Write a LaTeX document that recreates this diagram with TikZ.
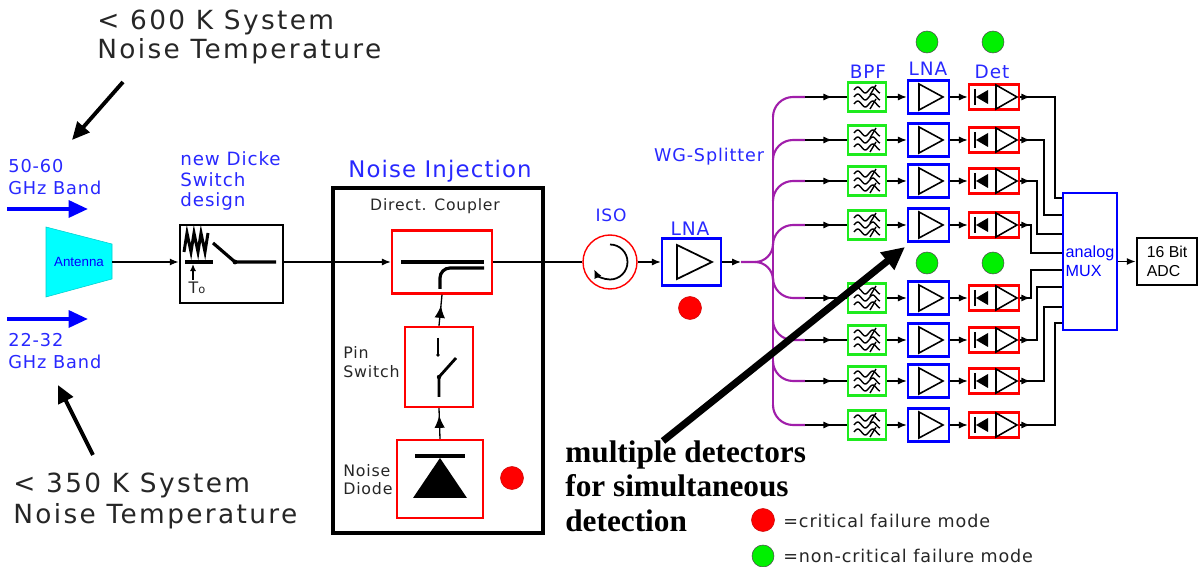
\documentclass[tikz,border=0pt]{standalone}
\usepackage{fontspec}
\setmainfont{Liberation Serif}
\newfontfamily\lbl[LetterSpace=5]{DejaVu Sans}
\newfontfamily\lblw[LetterSpace=9]{DejaVu Sans}
\newfontfamily\arl{Liberation Sans}
\usepackage{tikz}
\usetikzlibrary{arrows.meta,decorations.markings}
\definecolor{txtblue}{RGB}{40,40,255}
\definecolor{purp}{RGB}{160,30,170}
\definecolor{grn}{RGB}{30,235,30}
\definecolor{dotgrn}{RGB}{0,240,0}
\definecolor{antcyan}{RGB}{0,255,255}
\tikzset{
  redbox/.style={draw=red,line width=1.4pt,inner sep=0pt},
  bluebox/.style={draw=blue,line width=1.4pt,inner sep=0pt},
  grnbox/.style={draw=grn,line width=1.2pt,inner sep=0pt},
  blkbox/.style={draw,line width=1.6pt,inner sep=0pt},
  lbltxt/.style={inner sep=0pt,align=left,text=txtblue},
  blktxt/.style={inner sep=0pt,align=left,text=black!85},
  wire/.style={line width=0.75pt},
  midarr/.style={postaction={decorate},decoration={markings,mark=at position #1 with {\arrow{Latex[length=5pt,width=4pt]}}}},
  midarrb/.style={postaction={decorate},decoration={markings,mark=at position #1 with {\arrow{Latex[length=7pt,width=6pt]}}}},
  reddot/.style={circle,fill=red,draw=red!80!black,line width=0.3pt,minimum size=0.46cm,inner sep=0pt},
  grndot/.style={circle,fill=dotgrn,draw=black!70,line width=0.3pt,minimum size=0.44cm,inner sep=0pt},
  bandarr/.style={blue,line width=2.3pt,-{Triangle[length=11pt,width=9.5pt]}},
  notearr/.style={line width=2.2pt,-{Triangle[length=10pt,width=9pt]}},
}

\begin{document}
\begin{tikzpicture}[x=0.02cm,y=0.02cm,>={Latex[length=5pt,width=4pt]}]
          \useasboundingbox (0,0) rectangle (1198,-567);
          % front end
          \node[blktxt,anchor=west,font=\lblw\fontsize{15}{17}\selectfont] (t600) at (97,-37) {< 600 K System\\Noise Temperature};
          \coordinate (a600) at (123,-82);
          \coordinate (b600) at (72,-140);
          \draw[notearr] (a600) -- (b600);
          \node[lbltxt,anchor=west,font=\lbl\fontsize{10.1}{12.5}\selectfont] (b5060) at (8,-177) {50-60\\GHz Band};
          \coordinate (ua) at (7,-209);
          \coordinate (ub) at (88,-209);
          \draw[bandarr] (ua) -- (ub);
          \coordinate (la) at (7,-319);
          \coordinate (lb) at (88,-319);
          \draw[bandarr] (la) -- (lb);
          \node[lbltxt,anchor=west,font=\lbl\fontsize{10.1}{12.5}\selectfont] (b2232) at (8,-351) {22-32\\GHz Band};
          \node[blktxt,anchor=west,font=\lblw\fontsize{15}{17.5}\selectfont] (t350) at (13,-501) {< 350 K System\\Noise Temperature};
          \coordinate (a350) at (93,-455);
          \coordinate (b350) at (58,-385);
          \draw[notearr] (a350) -- (b350);

          \draw[fill=antcyan,draw=antcyan!80!black,line width=0.3pt] (46,-227) -- (112,-244) -- (112,-279) -- (46,-297) -- cycle;
          \node[inner sep=0pt,text=blue,font=\arl\fontsize{7.6}{9}\selectfont] (ant) at (79,-262) {Antenna};
          \coordinate (antout) at (112,-262);

          % Dicke switch
          \node[blkbox,minimum width=2.06cm,minimum height=1.56cm] (dk) at (231.5,-264) {};
          \node[lbltxt,anchor=west,font=\lbl\fontsize{10.4}{11.9}\selectfont] (dkl) at (180,-181) {new Dicke\\Switch\\design};
          \draw[line width=1.7pt] (184,-252) -- (187,-233) -- (191,-252) -- (194,-233) -- (198,-252) -- (201,-233) -- (205,-252) -- (208,-233);
          \draw[line width=2pt] (185,-262) -- (213,-262);
          \draw[line width=0.9pt,-{Latex[length=4pt,width=3.5pt]}] (193,-280) -- (193,-264);
          \node[blktxt,font=\lbl\fontsize{9}{10}\selectfont] (t0) at (197,-288) {T{\fontsize{6.5}{7}\selectfont o}};
          \draw[line width=1.8pt] (213,-243) -- (235,-262) -- (276,-262);
          \fill (235,-262) circle[radius=2.4];
          \draw[wire,->] (antout) -- (dk.west |- antout);

          % noise injection
          \node[blkbox,line width=1.8pt,minimum width=4.2cm,minimum height=6.9cm] (ni) at (438,-360.5) {};
          \node[lbltxt,font=\lbl\fontsize{13}{15}\selectfont] (nit) at (440,-171) {Noise Injection};
          \node[blktxt,font=\lbl\fontsize{8.9}{10}\selectfont] (dcl) at (435,-206) {Direct. Coupler};
          \node[redbox,minimum width=2cm,minimum height=1.26cm] (cpl) at (442,-262) {};
          \draw[line width=1.8pt] (401,-262) -- (484,-262);
          \draw[line width=1.8pt] (440,-289) -- (440,-278) arc[start angle=180,end angle=90,radius=0.2cm] -- (484,-268);
          \draw[wire,->] (dk.east |- cpl.west) -- (cpl.west);
          \node[redbox,minimum width=1.36cm,minimum height=1.6cm] (pin) at (439,-367) {};
          \draw[line width=1.6pt] (438,-338) -- (438,-354);
          \fill (438,-355) circle[radius=1.8];
          \draw[line width=1.6pt] (439,-397) -- (439,-377) -- (456,-358);
          \fill (439,-377) circle[radius=2.2];
          \node[blktxt,anchor=west,font=\lbl\fontsize{9}{10.8}\selectfont] (pinl) at (343,-362) {Pin\\Switch};
          \node[redbox,minimum width=1.72cm,minimum height=1.56cm] (dio) at (440,-479) {};
          \draw[line width=2pt] (415,-456) -- (465,-456);
          \fill (440,-458) -- (467,-498) -- (413,-498) -- cycle;
          \node[blktxt,anchor=west,font=\lbl\fontsize{9}{10.2}\selectfont] (diol) at (343,-480) {Noise\\Diode};
          \node[reddot] (rd1) at (512,-478) {};
          \draw[wire,midarrb=0.76] (dio.north) -- (pin.south);
          \draw[wire,midarrb=0.65] (pin.north) -- (cpl.south);

          % isolator and LNA
          \node[circle,draw=red,line width=0.8pt,minimum size=1.08cm,inner sep=0pt] (iso) at (610,-262) {};
          \draw[line width=1pt,-{Latex[length=5pt,width=4.5pt]}] ([shift={(90:0.35cm)}]iso.center) arc[start angle=90,end angle=-155,radius=0.35cm];
          \node[lbltxt,font=\lbl\fontsize{9.7}{11}\selectfont] (isol) at (611,-215) {ISO};
          \draw[wire] (cpl.east) -- (iso.west);
          \node[bluebox,minimum width=1.18cm,minimum height=0.94cm] (lna) at (691.5,-262) {};
          \draw[line width=1pt] (677,-245) -- (677,-279) -- (712,-262) -- cycle;
          \node[lbltxt,font=\lbl\fontsize{10.6}{12}\selectfont] (lnal) at (690,-229) {LNA};
          \node[reddot] (rd2) at (690,-308) {};
          \draw[wire,->] (iso.east) -- (lna.west);
          \coordinate (spl) at (741,-262);
          \draw[wire,->] (lna.east) -- (spl);
          \node[lbltxt,font=\lbl\fontsize{10}{12}\selectfont] (wgs) at (709,-157) {WG-Splitter};

          % splitter
          \draw[purp,line width=1.2pt] (spl) -- (755,-262) arc[start angle=-90,end angle=0,radius=0.36cm];
          \draw[purp,line width=1.2pt] (755,-262) arc[start angle=90,end angle=0,radius=0.36cm];
          \draw[purp,line width=1.2pt] (773,-117) -- (773,-405);

          % mux and adc
          \node[bluebox,minimum width=1.08cm,minimum height=2.74cm,align=left,text=blue,font=\arl\fontsize{9.2}{10.8}\selectfont] (mux) at (1090,-261.5) {analog\\MUX};
          \node[blkbox,minimum width=1.2cm,minimum height=0.94cm,align=left,font=\arl\fontsize{9}{10.5}\selectfont] (adc) at (1167,-261.5) {16 Bit\\ADC};
          \draw[wire,->] (mux.east) -- (adc.west);

          \node[lbltxt,font=\lbl\fontsize{10.5}{12}\selectfont] (bpfh) at (868,-72) {BPF};
          \node[lbltxt,font=\lbl\fontsize{10.5}{12}\selectfont] (lnah) at (928,-69) {LNA};
          \node[lbltxt,font=\lbl\fontsize{10.5}{12}\selectfont] (deth) at (992,-72) {Det};
          \node[grndot] (gd1) at (927,-42) {};
          \node[grndot] (gd2) at (993,-42) {};
          \node[grndot] (gd3) at (927,-263) {};
          \node[grndot] (gd4) at (993,-263) {};

          % detector chains
          \foreach \i/\y/\bx/\my in {1/97/1055/198,2/140/1044/215,3/181/1037/234,4/225/1031/253,5/298/1031/270,6/340/1037/287,7/381/1044/307,8/425/1055/323}{
            \coordinate (sp\i) at (805,-\y);
            \ifnum\i<5
              \draw[purp,line width=1.2pt] (773,-\y-20) arc[start angle=180,end angle=90,radius=0.4cm] -- (sp\i);
            \else
              \draw[purp,line width=1.2pt] (773,-\y+20) arc[start angle=180,end angle=270,radius=0.4cm] -- (sp\i);
            \fi
            \node[grnbox,minimum width=0.76cm,minimum height=0.58cm] (bpf\i) at (867,-\y) {};
            \node[bluebox,minimum width=0.82cm,minimum height=0.66cm] (lna\i) at (928.5,-\y) {};
            \node[redbox,minimum width=1cm,minimum height=0.5cm] (det\i) at (994,-\y) {};
            \foreach \k in {-7,0,7}
              \draw[line width=0.8pt] plot[domain=0:26,samples=25,variable=\t] ({854+\t},{-\y+\k+3*sin(\t*360/15)});
            \draw[line width=0.8pt] (870,-\y+2) -- (876,-\y+12);
            \draw[line width=0.8pt] (870,-\y-12) -- (876,-\y-2);
            \draw[line width=0.9pt] (919,-\y+13) -- (919,-\y-13) -- (943,-\y) -- cycle;
            \fill (976,-\y) -- (988,-\y+7) -- (988,-\y-7) -- cycle;
            \draw[line width=1.2pt] (975,-\y+8) -- (975,-\y-8);
            \draw[line width=0.9pt] (996,-\y+12) -- (996,-\y-12) -- (1017,-\y) -- cycle;
            \draw[wire,midarr=0.65] (sp\i) -- (bpf\i.west);
            \draw[wire,->] (bpf\i.east) -- (lna\i.west);
            \draw[wire,->] (lna\i.east) -- (det\i.west);
            \draw[wire,midarr=0.2cm] (det\i.east) -| (\bx,-\my) -- (mux.west |- \bx,-\my);
          }

          % annotation
          \node[inner sep=0pt,align=left,anchor=north west,font=\bfseries\fontsize{17.8}{19.8}\selectfont] (mdtxt) at (565,-440) {multiple detectors\\for simultaneous\\detection};
          \coordinate (mdtail) at (663,-441);
          \coordinate (mdtip) at (905,-247);
          \draw[line width=4pt,-{Triangle[length=13pt,width=12pt]}] (mdtail) -- (mdtip);

          % legend
          \node[reddot] (lgr) at (763,-520) {};
          \node[blktxt,anchor=west,font=\lbl\fontsize{10}{12}\selectfont] (lgrt) at (783,-521) {=critical failure mode};
          \node[grndot] (lgg) at (763,-556) {};
          \node[blktxt,anchor=west,font=\lbl\fontsize{10}{12}\selectfont] (lggt) at (783,-556) {=non-critical failure mode};
        \end{tikzpicture}
\end{document}
